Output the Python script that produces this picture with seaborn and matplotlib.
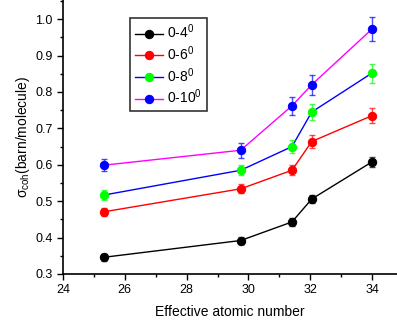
import matplotlib
matplotlib.use('Agg')
import matplotlib.pyplot as plt
import seaborn as sns
import pandas as pd
from matplotlib.ticker import MultipleLocator

# Effective atomic number of each sample
z_eff = [25.33, 29.75, 31.41, 32.05, 34.0]

# Coherent scattering cross section (barn/molecule) per angular range
labels = ['0-4$^0$', '0-6$^0$', '0-8$^0$', '0-10$^0$']
sigma_04 = [0.346, 0.392, 0.443, 0.506, 0.608]
sigma_06 = [0.471, 0.534, 0.585, 0.664, 0.735]
sigma_08 = [0.517, 0.585, 0.650, 0.745, 0.852]
sigma_010 = [0.599, 0.640, 0.762, 0.820, 0.973]

err_04 = [0.009, 0.009, 0.011, 0.012, 0.014]
err_06 = [0.011, 0.012, 0.014, 0.017, 0.021]
err_08 = [0.013, 0.014, 0.017, 0.021, 0.026]
err_010 = [0.016, 0.020, 0.024, 0.028, 0.032]

line_colors = ['black', 'red', 'blue', 'magenta']
marker_colors = ['black', 'red', '#00ff00', 'blue']

plt.rcParams['font.family'] = ['Liberation Sans', 'DejaVu Sans']
plt.rcParams['mathtext.fontset'] = 'custom'
plt.rcParams['mathtext.rm'] = 'Liberation Sans'
plt.rcParams['mathtext.it'] = 'Liberation Sans'

fig = plt.figure(figsize=(3.97, 3.22), dpi=100)
ax = fig.add_axes([63 / 397, 48 / 322, 334 / 397, 274 / 322])

series = [sigma_04, sigma_06, sigma_08, sigma_010]
errors = [err_04, err_06, err_08, err_010]

for lab, ys, es, lc, mc in zip(labels, series, errors, line_colors, marker_colors):
    df = pd.DataFrame({'z': z_eff, 'sigma': ys})
    sns.lineplot(data=df, x='z', y='sigma', ax=ax, color=lc, linewidth=1,
                 marker='o', markersize=6, markerfacecolor=mc, markeredgecolor=mc,
                 label=lab)
    ax.errorbar(z_eff, ys, yerr=es, fmt='none', ecolor=mc, elinewidth=1,
                capsize=2.3, capthick=1, alpha=0.7)

ax.set_xlim(24, 24 + 334 / 30.9)
ax.set_ylim(0.3, 0.3 + 274 / 364)
ax.xaxis.set_major_locator(MultipleLocator(2))
ax.xaxis.set_minor_locator(MultipleLocator(1))
ax.yaxis.set_major_locator(MultipleLocator(0.1))
ax.yaxis.set_minor_locator(MultipleLocator(0.05))
ax.tick_params(which='major', direction='out', length=4, width=1, labelsize=9)
ax.tick_params(which='minor', direction='out', length=2.5, width=1)
ax.set_xticks([24, 26, 28, 30, 32, 34])
ax.set_xticklabels(['24', '26', '28', '30', '32', '34'])
ax.set_yticks([0.3, 0.4, 0.5, 0.6, 0.7, 0.8, 0.9, 1.0])
ax.set_yticklabels(['0.3', '0.4', '0.5', '0.6', '0.7', '0.8', '0.9', '1.0'])

for side in ['top', 'right']:
    ax.spines[side].set_visible(False)
for side in ['left', 'bottom']:
    ax.spines[side].set_linewidth(1.2)

ax.set_xlabel('Effective atomic number', fontsize=10, labelpad=6)
ax.set_ylabel(r'$\sigma_{\mathrm{coh}}$(barn/molecule)', fontsize=10, labelpad=2)

leg = ax.legend(loc='upper left', bbox_to_anchor=(67 / 334, 1 - 18 / 274),
                borderaxespad=0, fontsize=10, frameon=True, fancybox=False,
                edgecolor='black', handlelength=2.0, borderpad=0.35,
                labelspacing=0.22, handletextpad=0.3)
leg.get_frame().set_linewidth(1.2)

fig.savefig('out.png', dpi=100)
